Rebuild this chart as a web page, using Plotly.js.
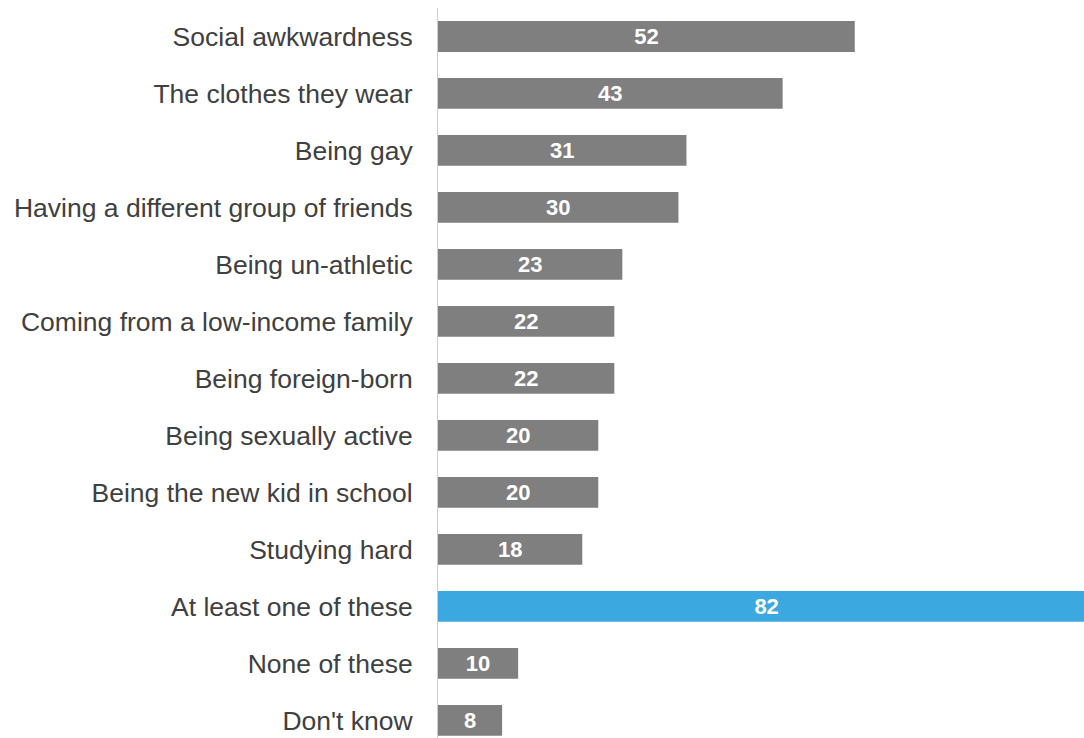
<!DOCTYPE html>
<html>
<head>
<meta charset="utf-8">
<script src="https://cdn.plot.ly/plotly-3.0.1.min.js"></script>
<style>html,body{margin:0;padding:0;background:#fff;}#chart{width:1084px;height:738px;}</style>
</head>
<body>
<div id="chart"></div>
<script>
const categories = [
  "Social awkwardness",
  "The clothes they wear",
  "Being gay",
  "Having a different group of friends",
  "Being un-athletic",
  "Coming from a low-income family",
  "Being foreign-born",
  "Being sexually active",
  "Being the new kid in school",
  "Studying hard",
  "At least one of these",
  "None of these",
  "Don't know"
];
const values = [52, 43, 31, 30, 23, 22, 22, 20, 20, 18, 82, 10, 8];
const highlight = "At least one of these";
const grayColor = "#7f7f7f";
const blueColor = "#3ba9e0";

const colors = categories.map(c => c === highlight ? blueColor : grayColor);

const trace = {
  type: "bar",
  orientation: "h",
  x: values,
  y: categories,
  marker: {color: colors, line: {width: 0}},
  text: values.map(String),
  textposition: "inside",
  insidetextanchor: "middle",
  constraintext: "none",
  textangle: 0,
  cliponaxis: true,
  textfont: {family: "'Liberation Sans Narrow', 'Arial Narrow', Arial, sans-serif", size: 22, color: "#ffffff", weight: "bold"},
  hoverinfo: "none"
};

const layout = {
  width: 1084,
  height: 738,
  margin: {l: 438, r: 0, t: 8, b: 0, pad: 0},
  paper_bgcolor: "#ffffff",
  plot_bgcolor: "#ffffff",
  showlegend: false,
  bargap: 0.46,
  xaxis: {
    range: [0, 80.6],
    showgrid: false,
    zeroline: false,
    showline: false,
    showticklabels: false,
    ticks: ""
  },
  yaxis: {
    type: "category",
    range: [12.31, -0.5],
    showgrid: false,
    zeroline: false,
    showline: true,
    linecolor: "#cccccc",
    linewidth: 1,
    ticks: "",
    ticklabelstandoff: 19,
    tickfont: {family: "'Liberation Sans', Arial, Helvetica, sans-serif", size: 26.5, color: "#404040"}
  }
};

Plotly.newPlot("chart", [trace], layout, {displayModeBar: false, staticPlot: true});
</script>
</body>
</html>
